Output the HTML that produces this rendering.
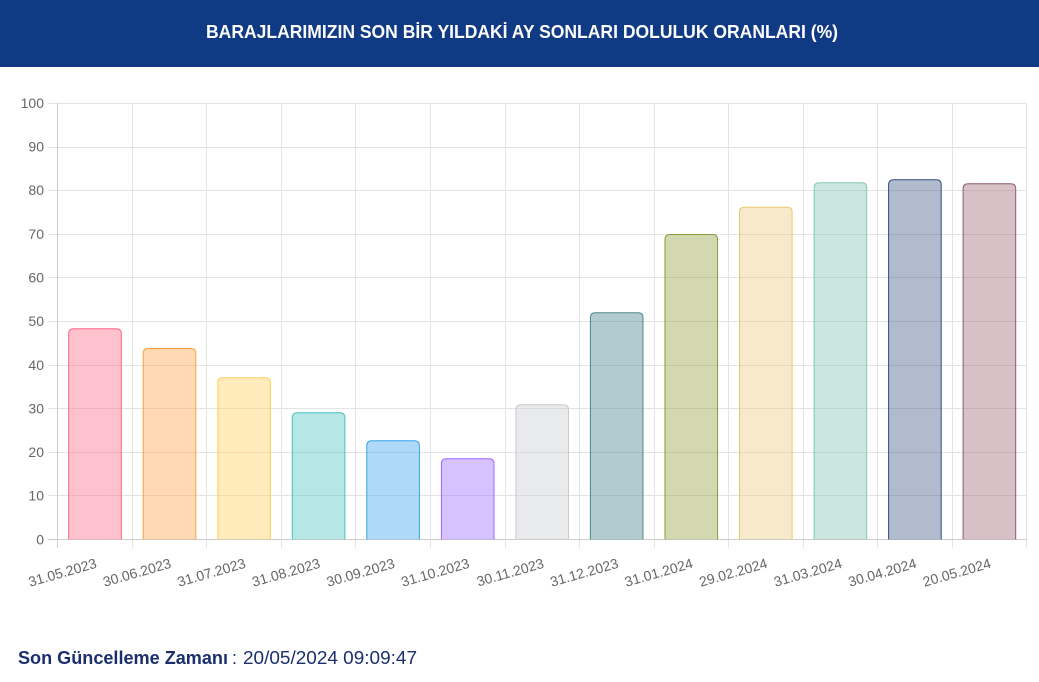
<!DOCTYPE html>
<html>
<head>
<meta charset="utf-8">
<style>
  html,body{margin:0;padding:0;background:#fff;}
  body{width:1039px;height:682px;overflow:hidden;}
  svg{display:block;}
</style>
</head>
<body>
<svg width="1039" height="682" viewBox="0 0 1039 682" xmlns="http://www.w3.org/2000/svg" font-family="'Liberation Sans', Arial, sans-serif">
  <!-- Header -->
  <rect x="0" y="0" width="1039" height="67" fill="#103a84"/>
  <text x="522" y="38" text-anchor="middle" fill="#ffffff" font-size="18" font-weight="bold" textLength="632" lengthAdjust="spacingAndGlyphs">BARAJLARIMIZIN SON BİR YILDAKİ AY SONLARI DOLULUK ORANLARI (%)</text>

  <!-- horizontal grid lines -->
  <g stroke="#e4e4e4" stroke-width="1">
    <line x1="48" y1="103.5" x2="1027" y2="103.5"/>
    <line x1="48" y1="147.5" x2="1027" y2="147.5"/>
    <line x1="48" y1="190.5" x2="1027" y2="190.5"/>
    <line x1="48" y1="234.5" x2="1027" y2="234.5"/>
    <line x1="48" y1="277.5" x2="1027" y2="277.5"/>
    <line x1="48" y1="321.5" x2="1027" y2="321.5"/>
    <line x1="48" y1="365.5" x2="1027" y2="365.5"/>
    <line x1="48" y1="408.5" x2="1027" y2="408.5"/>
    <line x1="48" y1="452.5" x2="1027" y2="452.5"/>
    <line x1="48" y1="495.5" x2="1027" y2="495.5"/>
  </g>
  <!-- vertical grid lines -->
  <g stroke="#e4e4e4" stroke-width="1">
    <line x1="132.5" y1="103" x2="132.5" y2="548"/>
    <line x1="206.5" y1="103" x2="206.5" y2="548"/>
    <line x1="281.5" y1="103" x2="281.5" y2="548"/>
    <line x1="355.5" y1="103" x2="355.5" y2="548"/>
    <line x1="430.5" y1="103" x2="430.5" y2="548"/>
    <line x1="505.5" y1="103" x2="505.5" y2="548"/>
    <line x1="579.5" y1="103" x2="579.5" y2="548"/>
    <line x1="654.5" y1="103" x2="654.5" y2="548"/>
    <line x1="728.5" y1="103" x2="728.5" y2="548"/>
    <line x1="803.5" y1="103" x2="803.5" y2="548"/>
    <line x1="877.5" y1="103" x2="877.5" y2="548"/>
    <line x1="952.5" y1="103" x2="952.5" y2="548"/>
    <line x1="1026.5" y1="103" x2="1026.5" y2="548"/>
  </g>
  <!-- axes -->
  <g stroke="#cdcdcd" stroke-width="1">
    <line x1="57.5" y1="103" x2="57.5" y2="548"/>
    <line x1="48" y1="539.5" x2="1027" y2="539.5"/>
  </g>

  <!-- bars -->
  <g stroke-width="1">
    <path d="M68.7 539.5 V333.8 Q68.7 328.8 73.7 328.8 H116.3 Q121.3 328.8 121.3 333.8 V539.5" fill="rgba(255,99,132,0.4)" stroke="rgb(255,99,132)"/>
    <path d="M143.2 539.5 V353.5 Q143.2 348.5 148.2 348.5 H190.8 Q195.8 348.5 195.8 353.5 V539.5" fill="rgba(255,159,64,0.4)" stroke="rgb(255,159,64)"/>
    <path d="M217.8 539.5 V382.8 Q217.8 377.8 222.8 377.8 H265.4 Q270.4 377.8 270.4 382.8 V539.5" fill="rgba(255,205,86,0.4)" stroke="rgb(255,205,86)"/>
    <path d="M292.3 539.5 V417.8 Q292.3 412.8 297.3 412.8 H339.9 Q344.9 412.8 344.9 417.8 V539.5" fill="rgba(75,192,192,0.4)" stroke="rgb(75,192,192)"/>
    <path d="M366.8 539.5 V445.8 Q366.8 440.8 371.8 440.8 H414.4 Q419.4 440.8 419.4 445.8 V539.5" fill="rgba(54,162,235,0.4)" stroke="rgb(54,162,235)"/>
    <path d="M441.4 539.5 V463.8 Q441.4 458.8 446.4 458.8 H489.0 Q494.0 458.8 494.0 463.8 V539.5" fill="rgba(153,102,255,0.4)" stroke="rgb(153,102,255)"/>
    <path d="M515.9 539.5 V409.8 Q515.9 404.8 520.9 404.8 H563.5 Q568.5 404.8 568.5 409.8 V539.5" fill="rgba(201,203,207,0.4)" stroke="rgb(201,203,207)"/>
    <path d="M590.4 539.5 V317.8 Q590.4 312.8 595.4 312.8 H638.0 Q643.0 312.8 643.0 317.8 V539.5" fill="rgba(62,125,132,0.4)" stroke="rgb(75,135,140)"/>
    <path d="M665.0 539.5 V239.5 Q665.0 234.5 670.0 234.5 H712.6 Q717.6 234.5 717.6 239.5 V539.5" fill="rgba(147,157,60,0.4)" stroke="rgb(138,154,58)"/>
    <path d="M739.5 539.5 V212.2 Q739.5 207.2 744.5 207.2 H787.1 Q792.1 207.2 792.1 212.2 V539.5" fill="rgba(235,202,125,0.4)" stroke="rgb(232,201,106)"/>
    <path d="M814.1 539.5 V187.8 Q814.1 182.8 819.1 182.8 H861.7 Q866.7 182.8 866.7 187.8 V539.5" fill="rgba(125,192,172,0.4)" stroke="rgb(127,202,176)"/>
    <path d="M888.6 539.5 V184.8 Q888.6 179.8 893.6 179.8 H936.2 Q941.2 179.8 941.2 184.8 V539.5" fill="rgba(57,87,132,0.4)" stroke="rgb(46,74,125)"/>
    <path d="M963.1 539.5 V188.8 Q963.1 183.8 968.1 183.8 H1010.7 Q1015.7 183.8 1015.7 188.8 V539.5" fill="rgba(155,97,112,0.4)" stroke="rgb(142,91,107)"/>
  </g>

  <!-- y labels -->
  <g font-size="14" fill="#666666" text-anchor="end">
    <text x="44" y="108">100</text>
    <text x="44" y="151.5">90</text>
    <text x="44" y="195">80</text>
    <text x="44" y="239">70</text>
    <text x="44" y="282.5">60</text>
    <text x="44" y="326">50</text>
    <text x="44" y="370">40</text>
    <text x="44" y="413.5">30</text>
    <text x="44" y="457">20</text>
    <text x="44" y="500.5">10</text>
    <text x="44" y="544.5">0</text>
  </g>

  <!-- x labels -->
  <g font-size="14" fill="#666666" text-anchor="end">
    <text transform="translate(97.5,567.5) rotate(-16)">31.05.2023</text>
    <text transform="translate(172,567.5) rotate(-16)">30.06.2023</text>
    <text transform="translate(246.5,567.5) rotate(-16)">31.07.2023</text>
    <text transform="translate(321,567.5) rotate(-16)">31.08.2023</text>
    <text transform="translate(395.6,567.5) rotate(-16)">30.09.2023</text>
    <text transform="translate(470.2,567.5) rotate(-16)">31.10.2023</text>
    <text transform="translate(544.7,567.5) rotate(-16)">30.11.2023</text>
    <text transform="translate(619.2,567.5) rotate(-16)">31.12.2023</text>
    <text transform="translate(693.8,567.5) rotate(-16)">31.01.2024</text>
    <text transform="translate(768.3,567.5) rotate(-16)">29.02.2024</text>
    <text transform="translate(842.9,567.5) rotate(-16)">31.03.2024</text>
    <text transform="translate(917.4,567.5) rotate(-16)">30.04.2024</text>
    <text transform="translate(991.9,567.5) rotate(-16)">20.05.2024</text>
  </g>

  <!-- footer -->
  <text x="18" y="664" font-size="18" font-weight="bold" fill="#1b2f6e" textLength="210" lengthAdjust="spacingAndGlyphs">Son Güncelleme Zamanı</text>
  <text x="232" y="664" font-size="18" fill="#1b2f6e">:</text>
  <text x="243" y="664" font-size="18" fill="#1b2f6e" textLength="174" lengthAdjust="spacingAndGlyphs">20/05/2024 09:09:47</text>
</svg>
</body>
</html>
